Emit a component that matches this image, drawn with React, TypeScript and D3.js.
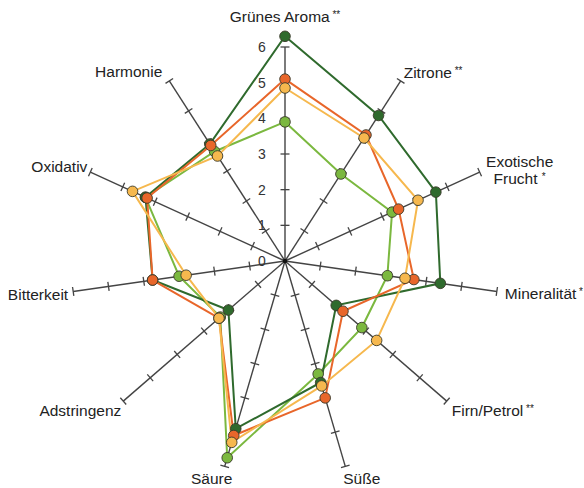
import React from "react";
import * as d3 from "d3";

const axes = ["Grünes Aroma", "Zitrone", "Exotische Frucht", "Mineralität", "Firn/Petrol", "Süße", "Säure", "Adstringenz", "Bitterkeit", "Oxidativ", "Harmonie"];
const stars = ["**", "**", "*", "*", "**", "", "", "", "", "", ""];
const ticks = [0, 1, 2, 3, 4, 5, 6];

const darkGreen = [6.3, 4.85, 4.65, 4.4, 1.9, 3.55, 4.9, 2.1, 3.75, 4.3, 3.9];
const orange = [5.1, 4.2, 3.5, 3.65, 2.15, 4.0, 5.1, 2.45, 3.75, 4.25, 3.85];
const yellow = [4.85, 4.1, 4.1, 3.4, 3.4, 3.65, 5.3, 2.45, 2.8, 4.7, 3.5];
const lightGreen = [3.9, 2.9, 3.3, 2.9, 2.85, 3.3, 5.75, 2.4, 3.0, 4.3, 3.65];

const series = [
  { name: "lightGreen", values: lightGreen, color: "#7bb83f" },
  { name: "darkGreen", values: darkGreen, color: "#2f6a2d" },
  { name: "orange", values: orange, color: "#e8662a" },
  { name: "yellow", values: yellow, color: "#f6b84e" },
];

// label layout: anchor, dx, dy (relative to axis end)
const labelLayout: { anchor: string; dx: number; dy: number }[] = [
  { anchor: "middle", dx: 0, dy: -25 },
  { anchor: "start", dx: 3, dy: -3 },
  { anchor: "middle", dx: 40, dy: -5 },
  { anchor: "start", dx: 8, dy: 8 },
  { anchor: "start", dx: 5, dy: 15 },
  { anchor: "start", dx: -2, dy: 18 },
  { anchor: "middle", dx: -13, dy: 18 },
  { anchor: "end", dx: -2, dy: 15 },
  { anchor: "end", dx: -5, dy: 9 },
  { anchor: "end", dx: -3, dy: 0 },
  { anchor: "end", dx: -7, dy: -4 },
];

export default function App() {
  const W = 584, H = 488;
  const cx = 285, cy = 261;
  const r = d3.scaleLinear().domain([0, 6]).range([0, 214]);
  const angle = d3.scaleLinear().domain([0, axes.length]).range([0, 2 * Math.PI]);
  const pt = (i: number, v: number): [number, number] => {
    const a = angle(i);
    return [cx + Math.sin(a) * r(v), cy - Math.cos(a) * r(v)];
  };
  const line = d3.line<[number, number]>().curve(d3.curveLinearClosed);
  const font = "'Liberation Sans', Arial, sans-serif";

  return (
    <svg width={W} height={H} style={{ position: "absolute", left: 0, top: 0, background: "#fff" }}>
      {axes.map((_, i) => {
        const [x2, y2] = pt(i, 6);
        const a = angle(i);
        const px = Math.cos(a), py = Math.sin(a);
        return (
          <g key={"ax" + i}>
            <line x1={cx} y1={cy} x2={x2} y2={y2} stroke="#444" strokeWidth={1.4} />
            {ticks.slice(1).map((t) => {
              const [tx, ty] = pt(i, t);
              const L = 4.5;
              return <line key={t} x1={tx - px * L} y1={ty - py * L} x2={tx + px * L} y2={ty + py * L} stroke="#444" strokeWidth={1.3} />;
            })}
          </g>
        );
      })}
      <circle cx={cx} cy={cy} r={2.2} fill="#111" />
      {ticks.map((t) => (
        <text key={"t" + t} x={cx - 23} y={cy - r(t) + 5} textAnchor="middle" fontSize={14} fontFamily={font} fill="#333">{t}</text>
      ))}
      {series.map((s) => (
        <path key={s.name} d={line(s.values.map((v, i) => pt(i, v))) || ""} fill="none" stroke={s.color} strokeWidth={2} />
      ))}
      {series.map((s) => (
        <g key={s.name + "m"}>
          {s.values.map((v, i) => {
            const [x, y] = pt(i, v);
            return <circle key={i} cx={x} cy={y} r={5.3} fill={s.color} stroke="#3a3a2a" strokeWidth={0.9} />;
          })}
        </g>
      ))}
      {axes.map((name, i) => {
        const [x, y] = pt(i, 6);
        const lay = labelLayout[i];
        const lx = x + lay.dx, ly = y + lay.dy;
        if (name === "Exotische Frucht") {
          return (
            <text key={"l" + i} x={lx} y={ly} textAnchor="middle" fontSize={15.5} fontFamily={font} fill="#222">
              <tspan x={lx} dy={0}>Exotische</tspan>
              <tspan x={lx} dy={17}>Frucht <tspan fontSize={10} dy={-4}>{stars[i]}</tspan></tspan>
            </text>
          );
        }
        return (
          <text key={"l" + i} x={lx} y={ly} textAnchor={lay.anchor} fontSize={15.5} fontFamily={font} fill="#222">
            {name}
            {stars[i] ? <tspan fontSize={10} dy={-4}>{" " + stars[i]}</tspan> : null}
          </text>
        );
      })}
    </svg>
  );
}
